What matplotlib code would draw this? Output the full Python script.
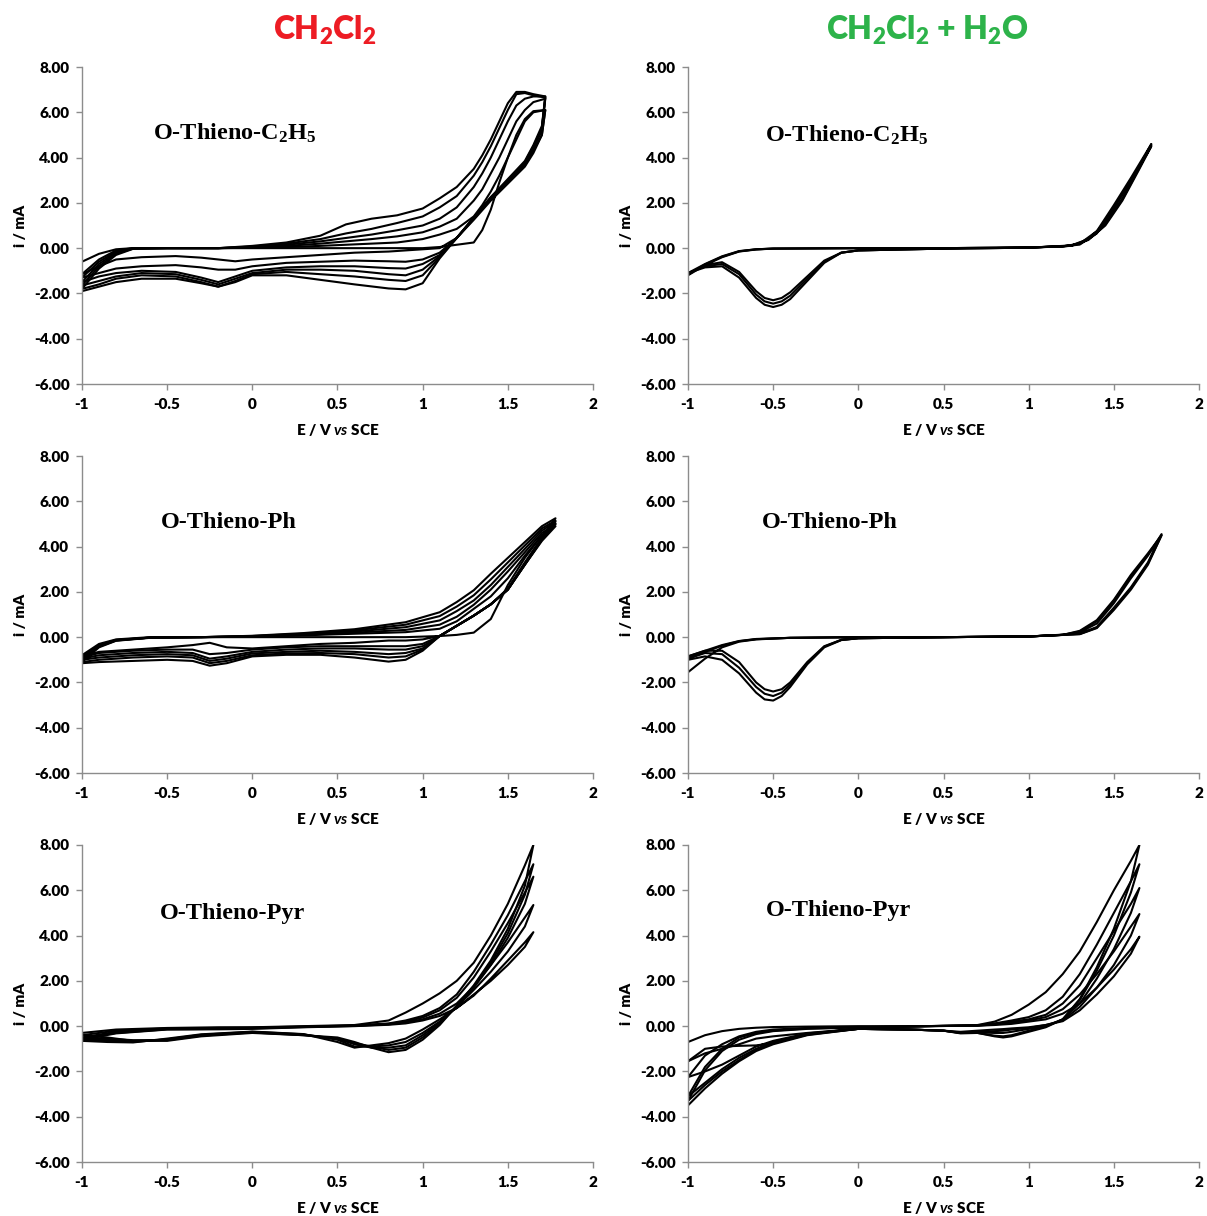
"""Cyclic voltammograms of the O-Thieno monomers in CH2Cl2 and in CH2Cl2 + H2O."""
import numpy as np
import matplotlib
matplotlib.use("Agg")
import matplotlib.pyplot as plt
from matplotlib.ticker import FormatStrFormatter

plt.rcParams["font.family"] = ["Lato", "DejaVu Sans"]
plt.rcParams["font.weight"] = "bold"
plt.rcParams["axes.unicode_minus"] = False
plt.rcParams["mathtext.fontset"] = "custom"
plt.rcParams["mathtext.default"] = "regular"
plt.rcParams["mathtext.rm"] = "Lato:bold"
plt.rcParams["mathtext.it"] = "Lato:italic:bold"

# %% Data: E in V vs SCE, i in mA.  One row per cycle.
# --- O-Thieno-C2H5, CH2Cl2 (6 cycles)
A_E_FWD = [-1.0, -0.9, -0.8, -0.7, -0.5, -0.2, 0.0, 0.2, 0.4, 0.55, 0.7, 0.85,
           1.0, 1.1, 1.2, 1.3, 1.35, 1.4, 1.45, 1.5, 1.55, 1.6, 1.65, 1.72]
A_I_FWD = [
    [-0.6, -0.25, -0.05, 0.0, 0.0, 0.0, 0.0, 0.0, 0.0, 0.0, 0.0, 0.0, 0.0, 0.05, 0.15, 0.25, 0.8, 1.7, 2.9, 4.0, 5.0, 5.7, 6.05, 6.1],
    [-1.15, -0.5, -0.1, 0.0, 0.0, 0.0, 0.02, 0.05, 0.1, 0.15, 0.2, 0.25, 0.4, 0.6, 0.85, 1.4, 1.9, 2.5, 3.2, 4.0, 4.8, 5.6, 6.0, 6.1],
    [-1.3, -0.6, -0.15, 0.0, 0.0, 0.0, 0.03, 0.1, 0.2, 0.3, 0.4, 0.52, 0.7, 0.95, 1.3, 2.1, 2.6, 3.3, 4.0, 4.8, 5.6, 6.1, 6.45, 6.6],
    [-1.5, -0.7, -0.2, -0.02, 0.0, 0.0, 0.05, 0.15, 0.3, 0.45, 0.6, 0.79, 1.0, 1.3, 1.8, 2.7, 3.3, 4.0, 4.8, 5.6, 6.3, 6.6, 6.7, 6.7],
    [-1.65, -0.8, -0.25, -0.02, 0.0, 0.0, 0.07, 0.2, 0.4, 0.65, 0.85, 1.11, 1.4, 1.8, 2.3, 3.2, 3.8, 4.5, 5.3, 6.1, 6.8, 6.85, 6.75, 6.65],
    [-1.8, -0.9, -0.3, -0.03, 0.0, 0.0, 0.1, 0.25, 0.55, 1.05, 1.3, 1.45, 1.75, 2.2, 2.7, 3.5, 4.1, 4.8, 5.6, 6.4, 6.9, 6.9, 6.8, 6.7],
]
A_E_REV = [1.70, 1.65, 1.6, 1.5, 1.4, 1.3, 1.2, 1.1, 1.0, 0.9, 0.8, 0.6, 0.4, 0.2,
           0.0, -0.1, -0.2, -0.3, -0.45, -0.65, -0.8, -0.9, -1.0]
A_I_REV = [
    [5.0, 4.2, 3.6, 2.85, 2.1, 1.25, 0.45, 0.0, -0.05, -0.1, -0.15, -0.2, -0.3, -0.4, -0.5, -0.58, -0.5, -0.42, -0.35, -0.4, -0.5, -0.8, -1.15],
    [5.0, 4.3, 3.65, 2.9, 2.15, 1.3, 0.45, -0.2, -0.5, -0.6, -0.58, -0.55, -0.6, -0.65, -0.8, -0.95, -0.95, -0.85, -0.75, -0.8, -0.9, -1.1, -1.3],
    [5.2, 4.4, 3.7, 2.95, 2.2, 1.3, 0.45, -0.3, -0.7, -0.9, -0.88, -0.8, -0.8, -0.85, -1.0, -1.25, -1.5, -1.3, -1.05, -1.0, -1.1, -1.25, -1.5],
    [5.3, 4.45, 3.75, 3.0, 2.2, 1.35, 0.45, -0.35, -0.95, -1.2, -1.15, -1.0, -0.95, -0.95, -1.1, -1.35, -1.6, -1.4, -1.15, -1.1, -1.25, -1.45, -1.65],
    [5.3, 4.5, 3.8, 3.0, 2.25, 1.35, 0.45, -0.4, -1.2, -1.45, -1.4, -1.25, -1.15, -1.05, -1.15, -1.45, -1.7, -1.5, -1.25, -1.2, -1.35, -1.6, -1.8],
    [5.4, 4.55, 3.85, 3.05, 2.25, 1.35, 0.45, -0.45, -1.55, -1.82, -1.78, -1.6, -1.4, -1.2, -1.2, -1.5, -1.7, -1.55, -1.35, -1.35, -1.5, -1.7, -1.9],
]

# --- O-Thieno-C2H5, CH2Cl2 + H2O (3 cycles)
B_E_FWD = [-1.0, -0.9, -0.8, -0.7, -0.6, -0.5, 0.0, 0.5, 1.0, 1.2, 1.3, 1.4, 1.5, 1.6, 1.72]
B_I_FWD = [
    [-1.2, -0.75, -0.4, -0.15, -0.06, -0.02, 0.0, 0.0, 0.03, 0.08, 0.2, 0.75, 1.9, 3.1, 4.6],
    [-1.15, -0.72, -0.38, -0.14, -0.05, -0.02, 0.0, 0.0, 0.03, 0.08, 0.18, 0.7, 1.8, 3.0, 4.55],
    [-1.1, -0.7, -0.36, -0.13, -0.05, -0.02, 0.0, 0.0, 0.03, 0.07, 0.16, 0.65, 1.75, 2.95, 4.5],
]
B_E_REV = [1.65, 1.55, 1.45, 1.35, 1.25, 1.0, 0.5, 0.0, -0.1, -0.2, -0.3, -0.4,
           -0.45, -0.5, -0.55, -0.6, -0.7, -0.8, -0.9, -1.0]
B_I_REV = [
    [3.6, 2.2, 1.1, 0.4, 0.12, 0.02, -0.02, -0.1, -0.2, -0.55, -1.25, -1.95, -2.2, -2.3, -2.2, -1.9, -1.05, -0.62, -0.75, -1.15],
    [3.55, 2.15, 1.05, 0.38, 0.11, 0.02, -0.02, -0.1, -0.2, -0.6, -1.35, -2.1, -2.35, -2.45, -2.35, -2.05, -1.15, -0.7, -0.8, -1.1],
    [3.5, 2.1, 1.0, 0.36, 0.1, 0.02, -0.02, -0.1, -0.2, -0.65, -1.45, -2.25, -2.5, -2.6, -2.5, -2.2, -1.3, -0.8, -0.85, -1.1],
]

# --- O-Thieno-Ph, CH2Cl2 (6 cycles)
C_E_FWD = [-1.0, -0.9, -0.8, -0.6, -0.3, 0.0, 0.3, 0.6, 0.9, 1.1, 1.2, 1.3, 1.4, 1.5, 1.6, 1.7, 1.78]
C_I_FWD = [
    [-0.8, -0.3, -0.1, 0.0, 0.0, 0.0, 0.0, 0.0, 0.0, 0.05, 0.1, 0.2, 0.8, 2.3, 3.5, 4.5, 5.0],
    [-0.85, -0.35, -0.12, -0.02, 0.0, 0.02, 0.08, 0.15, 0.22, 0.37, 0.7, 1.25, 1.8, 2.6, 3.6, 4.5, 4.9],
    [-0.9, -0.38, -0.13, -0.02, 0.0, 0.03, 0.1, 0.2, 0.32, 0.55, 0.9, 1.43, 2.1, 2.9, 3.75, 4.6, 5.0],
    [-0.95, -0.4, -0.14, -0.02, 0.0, 0.04, 0.12, 0.25, 0.44, 0.74, 1.15, 1.62, 2.3, 3.1, 3.9, 4.7, 5.1],
    [-1.0, -0.42, -0.15, -0.02, 0.0, 0.05, 0.15, 0.3, 0.55, 0.93, 1.35, 1.85, 2.55, 3.3, 4.05, 4.8, 5.15],
    [-1.1, -0.45, -0.16, -0.03, 0.0, 0.06, 0.18, 0.35, 0.66, 1.1, 1.55, 2.07, 2.8, 3.5, 4.2, 4.9, 5.25],
]
C_E_REV = [1.7, 1.6, 1.5, 1.4, 1.3, 1.2, 1.1, 1.0, 0.9, 0.8, 0.6, 0.4, 0.2, 0.0,
           -0.15, -0.25, -0.35, -0.5, -0.7, -0.9, -1.0]
C_I_REV = [
    [4.3, 3.2, 2.1, 1.45, 0.95, 0.5, 0.05, -0.1, -0.15, -0.15, -0.25, -0.3, -0.4, -0.5, -0.45, -0.25, -0.35, -0.45, -0.55, -0.65, -0.85],
    [4.25, 3.2, 2.1, 1.45, 0.95, 0.5, 0.05, -0.3, -0.4, -0.4, -0.4, -0.4, -0.45, -0.55, -0.7, -0.75, -0.55, -0.55, -0.6, -0.7, -0.9],
    [4.3, 3.2, 2.1, 1.45, 0.95, 0.5, 0.05, -0.4, -0.55, -0.55, -0.5, -0.5, -0.55, -0.65, -0.85, -0.95, -0.7, -0.65, -0.7, -0.8, -0.95],
    [4.35, 3.25, 2.1, 1.45, 0.95, 0.5, 0.05, -0.5, -0.7, -0.75, -0.65, -0.6, -0.65, -0.72, -0.95, -1.05, -0.8, -0.75, -0.8, -0.9, -1.0],
    [4.35, 3.25, 2.1, 1.45, 0.95, 0.5, 0.05, -0.55, -0.85, -0.9, -0.75, -0.7, -0.72, -0.8, -1.05, -1.15, -0.9, -0.85, -0.9, -1.0, -1.1],
    [4.4, 3.3, 2.15, 1.45, 0.95, 0.5, 0.05, -0.6, -1.0, -1.08, -0.9, -0.78, -0.78, -0.85, -1.15, -1.26, -1.05, -1.0, -1.05, -1.1, -1.15],
]

# --- O-Thieno-Ph, CH2Cl2 + H2O (3 cycles)
D_E_FWD = [-1.0, -0.9, -0.8, -0.7, -0.6, -0.4, 0.0, 0.5, 1.0, 1.2, 1.3, 1.4, 1.5, 1.6, 1.7, 1.78]
D_I_FWD = [
    [-1.55, -0.95, -0.45, -0.2, -0.1, -0.03, 0.0, 0.0, 0.03, 0.1, 0.22, 0.6, 1.5, 2.6, 3.6, 4.55],
    [-0.85, -0.6, -0.35, -0.17, -0.08, -0.03, 0.0, 0.0, 0.03, 0.1, 0.25, 0.7, 1.6, 2.7, 3.65, 4.5],
    [-0.95, -0.65, -0.38, -0.18, -0.09, -0.03, 0.0, 0.0, 0.03, 0.1, 0.28, 0.75, 1.65, 2.75, 3.7, 4.5],
]
D_E_REV = [1.7, 1.6, 1.5, 1.4, 1.3, 1.0, 0.5, 0.0, -0.1, -0.2, -0.3, -0.4, -0.45,
           -0.5, -0.55, -0.6, -0.7, -0.8, -0.9, -1.0]
D_I_REV = [
    [3.3, 2.2, 1.3, 0.45, 0.15, 0.03, 0.0, -0.05, -0.12, -0.4, -1.1, -2.0, -2.3, -2.4, -2.3, -2.0, -1.1, -0.6, -0.6, -0.85],
    [3.25, 2.15, 1.25, 0.42, 0.14, 0.03, 0.0, -0.05, -0.12, -0.42, -1.15, -2.1, -2.45, -2.6, -2.5, -2.2, -1.35, -0.75, -0.7, -0.95],
    [3.2, 2.1, 1.2, 0.4, 0.13, 0.03, 0.0, -0.05, -0.13, -0.45, -1.2, -2.2, -2.6, -2.8, -2.75, -2.45, -1.6, -1.0, -0.85, -1.0],
]

# --- O-Thieno-Pyr, CH2Cl2 (5 cycles)
E_E_FWD = [-1.0, -0.8, -0.5, -0.2, 0.0, 0.3, 0.6, 0.8, 0.9, 1.0, 1.1, 1.2, 1.3, 1.4, 1.5, 1.6, 1.65]
E_I_FWD = [
    [-0.3, -0.15, -0.08, -0.05, -0.05, 0.0, 0.05, 0.25, 0.6, 1.0, 1.45, 2.0, 2.8, 4.0, 5.4, 7.1, 8.0],
    [-0.4, -0.2, -0.1, -0.08, -0.06, -0.02, 0.03, 0.12, 0.25, 0.45, 0.8, 1.4, 2.4, 3.6, 4.9, 6.4, 7.15],
    [-0.5, -0.25, -0.12, -0.1, -0.08, -0.03, 0.02, 0.1, 0.2, 0.38, 0.7, 1.25, 2.15, 3.3, 4.55, 5.9, 6.6],
    [-0.55, -0.3, -0.14, -0.12, -0.1, -0.04, 0.01, 0.08, 0.16, 0.3, 0.55, 1.0, 1.75, 2.7, 3.7, 4.8, 5.35],
    [-0.6, -0.32, -0.15, -0.14, -0.12, -0.05, 0.0, 0.06, 0.12, 0.25, 0.45, 0.8, 1.35, 2.1, 2.9, 3.7, 4.15],
]
E_E_REV = [1.6, 1.5, 1.4, 1.3, 1.2, 1.1, 1.0, 0.9, 0.8, 0.7, 0.6, 0.5, 0.3, 0.0,
           -0.3, -0.5, -0.7, -0.85, -1.0]
E_I_REV = [
    [6.2, 4.3, 2.9, 1.8, 0.9, 0.05, -0.6, -1.05, -1.15, -0.95, -0.7, -0.5, -0.4, -0.3, -0.45, -0.65, -0.65, -0.5, -0.4],
    [5.8, 4.1, 2.8, 1.75, 0.9, 0.1, -0.5, -0.95, -1.05, -0.9, -0.75, -0.55, -0.4, -0.28, -0.42, -0.62, -0.62, -0.55, -0.5],
    [5.4, 3.9, 2.7, 1.7, 0.85, 0.15, -0.4, -0.85, -0.95, -0.95, -0.8, -0.55, -0.38, -0.27, -0.4, -0.6, -0.65, -0.6, -0.55],
    [4.4, 3.3, 2.4, 1.6, 0.85, 0.2, -0.3, -0.7, -0.85, -0.9, -0.9, -0.6, -0.36, -0.25, -0.38, -0.58, -0.7, -0.65, -0.6],
    [3.5, 2.7, 2.0, 1.4, 0.8, 0.3, -0.15, -0.55, -0.75, -0.85, -0.95, -0.7, -0.35, -0.24, -0.36, -0.55, -0.72, -0.7, -0.65],
]

# --- O-Thieno-Pyr, CH2Cl2 + H2O (5 cycles)
F_E_FWD = [-1.0, -0.9, -0.8, -0.7, -0.6, -0.5, -0.3, 0.0, 0.4, 0.7, 0.8, 0.9, 1.0,
           1.1, 1.2, 1.3, 1.4, 1.5, 1.6, 1.65]
F_I_FWD = [
    [-0.7, -0.4, -0.22, -0.12, -0.07, -0.04, -0.02, 0.0, 0.0, 0.05, 0.2, 0.5, 0.95, 1.5, 2.3, 3.3, 4.6, 6.0, 7.3, 8.0],
    [-1.55, -1.0, -0.9, -0.87, -0.85, -0.75, -0.35, -0.1, 0.0, 0.04, 0.12, 0.25, 0.4, 0.7, 1.3, 2.3, 3.6, 5.0, 6.4, 7.15],
    [-2.25, -1.3, -0.8, -0.45, -0.25, -0.15, -0.08, -0.05, 0.0, 0.03, 0.1, 0.2, 0.3, 0.5, 1.0, 1.8, 3.0, 4.2, 5.4, 6.1],
    [-3.1, -1.8, -1.0, -0.5, -0.3, -0.2, -0.1, -0.05, 0.0, 0.02, 0.08, 0.15, 0.25, 0.4, 0.75, 1.4, 2.3, 3.3, 4.4, 4.95],
    [-3.3, -1.95, -1.1, -0.6, -0.35, -0.22, -0.12, -0.06, 0.0, 0.02, 0.05, 0.1, 0.2, 0.3, 0.55, 1.0, 1.7, 2.5, 3.4, 3.95],
]
F_E_REV = [1.6, 1.5, 1.4, 1.3, 1.2, 1.1, 1.0, 0.9, 0.85, 0.8, 0.7, 0.6, 0.5, 0.3,
           0.0, -0.3, -0.5, -0.6, -0.7, -0.8, -0.9, -1.0]
F_I_REV = [
    [6.4, 4.3, 2.6, 1.2, 0.3, -0.05, -0.25, -0.45, -0.5, -0.45, -0.3, -0.32, -0.2, -0.15, -0.12, -0.3, -0.45, -0.55, -0.8, -1.0, -1.2, -1.55],
    [5.9, 4.0, 2.45, 1.15, 0.3, -0.02, -0.2, -0.4, -0.45, -0.42, -0.3, -0.3, -0.2, -0.15, -0.12, -0.32, -0.65, -0.9, -1.3, -1.7, -2.0, -2.25],
    [5.0, 3.4, 2.1, 1.0, 0.3, 0.0, -0.12, -0.25, -0.3, -0.3, -0.28, -0.3, -0.2, -0.15, -0.12, -0.35, -0.7, -1.0, -1.4, -1.9, -2.5, -3.1],
    [4.0, 2.7, 1.7, 0.85, 0.25, 0.05, -0.08, -0.15, -0.2, -0.22, -0.25, -0.28, -0.2, -0.15, -0.12, -0.38, -0.75, -1.05, -1.5, -2.0, -2.6, -3.3],
    [3.2, 2.2, 1.4, 0.7, 0.22, 0.05, -0.05, -0.1, -0.13, -0.15, -0.2, -0.25, -0.2, -0.15, -0.12, -0.4, -0.8, -1.1, -1.55, -2.1, -2.75, -3.5],
]

COMPOUNDS = ["O-Thieno-C$_2$H$_5$", "O-Thieno-Ph", "O-Thieno-Pyr"]
SOLVENTS = ["CH$_2$Cl$_2$", "CH$_2$Cl$_2$ + H$_2$O"]
X_TICKS = [-1, -0.5, 0, 0.5, 1, 1.5, 2]
X_TICK_LABELS = ["-1", "-0.5", "0", "0.5", "1", "1.5", "2"]
Y_TICKS = [-6, -4, -2, 0, 2, 4, 6, 8]

# %% Layout: 3 rows (compounds) x 2 columns (solvents), positions in figure fractions.
fig = plt.figure(figsize=(12.07, 12.16), dpi=100)
COL_LEFT = [0.0679, 0.570]
ROW_BOTTOM = [0.6842, 0.3643, 0.0444]
W, H = 0.4234, 0.2607
GREY = "#8c8c8c"
TICK_FONT = 11

panels = [
    (0, 0, A_E_FWD, A_I_FWD, A_E_REV, A_I_REV, (0.139, 0.792)),
    (0, 1, B_E_FWD, B_I_FWD, B_E_REV, B_I_REV, (0.151, 0.785)),
    (1, 0, C_E_FWD, C_I_FWD, C_E_REV, C_I_REV, (0.155, 0.789)),
    (1, 1, D_E_FWD, D_I_FWD, D_E_REV, D_I_REV, (0.145, 0.789)),
    (2, 0, E_E_FWD, E_I_FWD, E_E_REV, E_I_REV, (0.153, 0.785)),
    (2, 1, F_E_FWD, F_I_FWD, F_E_REV, F_I_REV, (0.153, 0.792)),
]

for row, col, e_fwd, i_fwd, e_rev, i_rev, label_xy in panels:
    ax = fig.add_axes([COL_LEFT[col], ROW_BOTTOM[row], W, H])
    # one closed sweep per cycle: forward to the vertex, then back to -1 V
    for fwd, rev in zip(i_fwd, i_rev):
        ax.plot(np.r_[e_fwd, e_rev], np.r_[fwd, rev], color="black", lw=1.5,
                solid_joinstyle="round")

    ax.set_xlim(-1, 2)
    ax.set_ylim(-6, 8)
    ax.set_xticks(X_TICKS)
    ax.set_xticklabels(X_TICK_LABELS)
    ax.set_yticks(Y_TICKS)
    ax.yaxis.set_major_formatter(FormatStrFormatter("%.2f"))
    for side in ("top", "right"):
        ax.spines[side].set_visible(False)
    for side in ("left", "bottom"):
        ax.spines[side].set_color(GREY)
        ax.spines[side].set_linewidth(1.0)
    ax.tick_params(axis="both", direction="out", length=4, width=1, color=GREY,
                   labelsize=TICK_FONT)
    ax.tick_params(axis="x", pad=6)
    ax.tick_params(axis="y", pad=5)
    for lbl in ax.get_xticklabels() + ax.get_yticklabels():
        lbl.set_fontweight("heavy")
    ax.set_xlabel(r"E / V $\mathit{vs}$ SCE", fontsize=TICK_FONT, fontweight="heavy", labelpad=8)
    ax.set_ylabel("i / mA", fontsize=TICK_FONT, fontweight="heavy", labelpad=5)
    ax.text(*label_xy, COMPOUNDS[row], transform=ax.transAxes, ha="left", va="center",
            fontsize=17.5, family="Liberation Serif", weight="bold")

fig.text(325 / 1207, 1 - 30 / 1216, SOLVENTS[0], color="#ed1c24", fontsize=23,
         fontweight="heavy", ha="center", va="center")
fig.text(927 / 1207, 1 - 30 / 1216, SOLVENTS[1], color="#2db34a", fontsize=23,
         fontweight="heavy", ha="center", va="center")

fig.savefig("out.png", dpi=100)
